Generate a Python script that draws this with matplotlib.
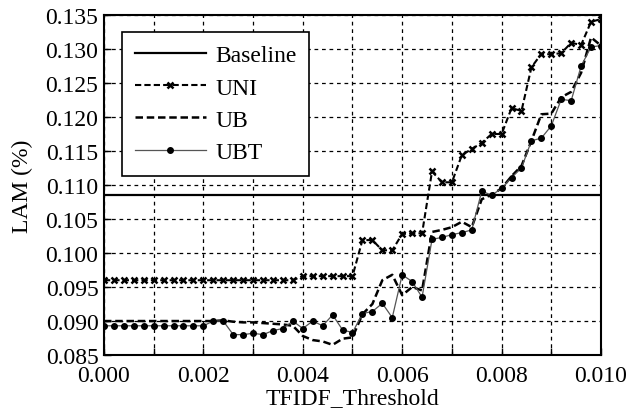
import numpy as np
import matplotlib
matplotlib.use("Agg")
import matplotlib.pyplot as plt
from matplotlib.ticker import MultipleLocator, FormatStrFormatter

plt.rcParams['font.family'] = ['Liberation Serif', 'DejaVu Serif']
plt.rcParams['mathtext.fontset'] = 'stix'

thresholds = [round(i * 0.0002, 4) for i in range(51)]

baseline = 0.1086

uni = [0.0960] * 20 + [0.0966] * 6 + [
    0.1019, 0.1019, 0.1004, 0.1004, 0.1028, 0.1029, 0.1029,
    0.1120, 0.1104, 0.1104, 0.1144, 0.1153, 0.1162, 0.1175, 0.1175,
    0.1213, 0.1209, 0.1273, 0.1293, 0.1292, 0.1294, 0.1309, 0.1306,
    0.1340, 0.1344]

ub = [0.0900] * 12 + [
    0.0901, 0.0899, 0.0898, 0.0898, 0.0897, 0.0896, 0.0895, 0.0893,
    0.0878, 0.0872, 0.0870, 0.0865, 0.0874, 0.0876,
    0.0910, 0.0925, 0.0960, 0.0968, 0.0938, 0.0950, 0.0945,
    0.1031, 0.1034, 0.1038, 0.1046, 0.1038, 0.1079, 0.1086, 0.1095,
    0.1113, 0.1128, 0.1165, 0.1204, 0.1205, 0.1229, 0.1237, 0.1265,
    0.1317, 0.1305]

ubt = [0.0893] * 11 + [
    0.0900, 0.0900, 0.0880, 0.0880, 0.0882, 0.0880, 0.0886, 0.0889,
    0.0900, 0.0889, 0.0900, 0.0893, 0.0909, 0.0887, 0.0883,
    0.0911, 0.0914, 0.0926, 0.0905, 0.0968, 0.0958, 0.0935,
    0.1020, 0.1023, 0.1027, 0.1030, 0.1034, 0.1091, 0.1085, 0.1095,
    0.1111, 0.1125, 0.1165, 0.1169, 0.1187, 0.1226, 0.1224, 0.1275,
    0.1303, 0.1305]

fig = plt.figure(figsize=(6.29, 4.14), dpi=100)
ax = fig.add_axes([0.1653, 0.140, 0.7902, 0.8214])

ax.axhline(baseline, color='black', lw=1.6, label='Baseline')
ax.plot(thresholds, uni, color='black', lw=1.5, ls=(0, (3, 1.5)),
        marker='x', ms=5, mew=1.8, label='UNI')
ax.plot(thresholds, ub, color='black', lw=1.8, ls=(0, (3, 1.5)),
        label='UB')
ax.plot(thresholds, ubt, color='#555555', lw=0.9, ls='-',
        marker='o', ms=4, mfc='black', mec='black', label='UBT')

ax.set_xlim(0, 0.010)
ax.set_ylim(0.085, 0.135)
ax.xaxis.set_major_locator(MultipleLocator(0.002))
ax.xaxis.set_minor_locator(MultipleLocator(0.001))
ax.yaxis.set_major_locator(MultipleLocator(0.005))
ax.xaxis.set_major_formatter(FormatStrFormatter('%.3f'))
ax.yaxis.set_major_formatter(FormatStrFormatter('%.3f'))

ax.grid(True, which='both', color='black', ls=(0, (3, 3)), lw=0.9)
ax.tick_params(axis='both', which='both', direction='in', labelsize=17,
               pad=4, length=5, width=1)
ax.tick_params(axis='x', which='major', pad=7)
for s in ax.spines.values():
    s.set_linewidth(1.5)

ax.set_xlabel('TFIDF_Threshold', fontsize=17, labelpad=1)
ax.set_ylabel('LAM (%)', fontsize=17, labelpad=9)

leg = ax.legend(loc='upper left', bbox_to_anchor=(0.012, 0.985),
                fontsize=17, frameon=True, fancybox=False,
                edgecolor='black', framealpha=1, handlelength=3.0,
                borderpad=0.55, labelspacing=0.45, handletextpad=0.4)
leg.get_frame().set_linewidth(1.2)

fig.savefig('out.png', dpi=100)
